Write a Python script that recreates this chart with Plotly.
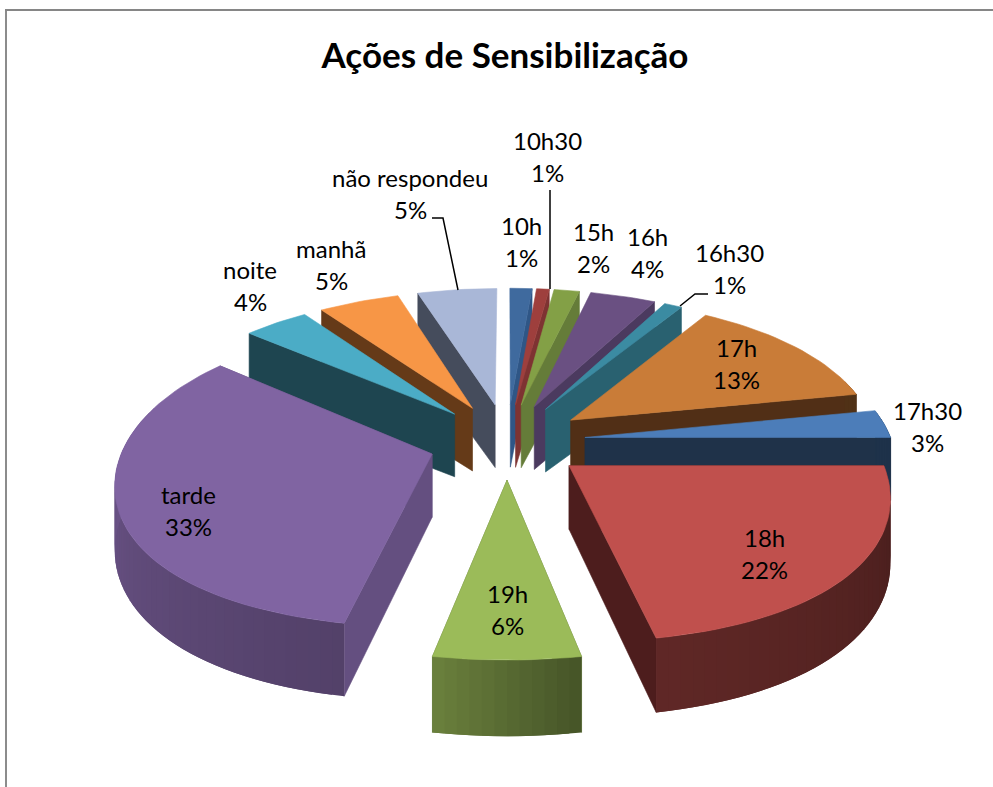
import math
import plotly.graph_objects as go

categories = ["10h", "10h30", "15h", "16h", "16h30", "17h", "17h30", "18h", "19h", "tarde", "noite", "manhã", "não respondeu"]
values = [1.4, 0.8, 1.6, 4.1, 1.1, 13, 3, 22, 6, 33, 4, 5, 5]
top_colors = ["#3f6a9e", "#9e3f3d", "#83a046", "#6a5082", "#3b8ba2", "#c97c38", "#4c7db9", "#c0504d", "#9bbb59", "#8064a2", "#4bacc6", "#f79646", "#a9b7d7"]
face_colors = ["#2f5686", "#7e3332", "#657c39", "#4b3a5f", "#296170", "#512f16", "#1f3249", "#4d1d1d", "#5d7535", "#644f80", "#1e4550", "#653a18", "#454c5c"]
wall_left = [.4, .4, .4, .4, .4, .4, .4, .50, .69, .92, .4, .41, .41]
wall_right = [.4, .4, .4, .4, .4, .4, .4, .37, .45, .65, .4, .41, .41]
label_x = [521, 547, 593, 647, 729, 736, 927, 764, 507, 188, 250, 331, 410]
label_y = [225, 140, 231, 236, 252, 347, 410, 537, 593, 494, 269, 248, 177]
title_text = "Ações de Sensibilização"

CX, CY, R, EXPLODE = 507, 441, 308, 0.256
RY, RY2 = 148, 21
FONT = "Lato"


def scale(v):
    return 0.9963 + 0.151 * v + 0.04014 * v * v + 0.02484 * v ** 3


def project(u, v):
    return CX + R * scale(v) * u, CY + v * (RY + RY2 * v)


def depth(v):
    return 63 + 3 * v + 6 * v * v


def shade(hex_color, f):
    r, g, b = (int(hex_color[i:i + 2], 16) for i in (1, 3, 5))
    return f"rgb({int(r * f)},{int(g * f)},{int(b * f)})"


def poly(pts, color, width=0.6):
    xs = [p[0] for p in pts] + [pts[0][0]]
    ys = [p[1] for p in pts] + [pts[0][1]]
    return go.Scatter(x=xs, y=ys, mode="lines", fill="toself", fillcolor=color,
                      line=dict(color=color, width=width), hoverinfo="skip", showlegend=False)


total = sum(values)
slices = []
cum = 0
for i, val in enumerate(values):
    a0 = 2 * math.pi * cum / total
    a1 = 2 * math.pi * (cum + val) / total
    cum += val
    m = (a0 + a1) / 2
    slices.append((i, a0, a1, m, -math.cos(m)))

fig = go.Figure()
for i, a0, a1, m, _ in sorted(slices, key=lambda s: s[4]):
    ou, ov = EXPLODE * math.sin(m), -EXPLODE * math.cos(m)
    n = max(12, int((a1 - a0) * 30))
    angles = [a0 + (a1 - a0) * j / n for j in range(n + 1)]
    arc = [(ou + math.sin(a), ov - math.cos(a)) for a in angles]
    tip = (ou, ov)

    def lower(p):
        x, y = project(*p)
        return x, y + depth(p[1])

    def upper(p):
        return project(*p)

    start_face = [upper(tip), upper(arc[0]), lower(arc[0]), lower(tip)]
    end_face = [upper(tip), upper(arc[-1]), lower(arc[-1]), lower(tip)]
    # faces turned away from the viewer are left out
    if m < math.pi / 2:
        faces = [end_face]
    elif m > 3 * math.pi / 2:
        faces = [start_face]
    else:
        faces = [start_face, end_face] if math.sin(m) > 0 else [end_face, start_face]
    for f in faces:
        fig.add_trace(poly(f, face_colors[i]))
    for j in range(n):
        if -math.cos((angles[j] + angles[j + 1]) / 2) < -0.3:
            continue
        t = (j + 0.5) / n
        f = wall_right[i] * (1 - t) + wall_left[i] * t
        k = min(j + 2, n)
        seg = [upper(p) for p in arc[j:k + 1]] + [lower(p) for p in reversed(arc[j:k + 1])]
        fig.add_trace(poly(seg, shade(top_colors[i], f), width=0))
    fig.add_trace(poly([upper(tip)] + [upper(p) for p in arc], top_colors[i]))

shapes = [
    dict(type="line", x0=6, y0=10, x1=6, y1=787, line=dict(color="#8c8c8c", width=2)),
    dict(type="line", x0=5, y0=10, x1=993, y1=10, line=dict(color="#868686", width=2)),
    dict(type="path", path="M 550 190 L 550 289", line=dict(color="black", width=1.5)),
    dict(type="path", path="M 432 218 L 443 218 L 458 290", line=dict(color="black", width=1.5)),
    dict(type="path", path="M 708 294 L 695 294 L 680 306", line=dict(color="black", width=1.5)),
]

annotations = []
LINE_GAP = 16
for name, val, x, y in zip(categories, values, label_x, label_y):
    pct = f"{round(100 * val / total)}%"
    annotations.append(dict(x=x, y=y, text=name, xref="x", yref="y", showarrow=False,
                            xanchor="center", yanchor="middle", font=dict(family=FONT, size=24, color="black")))
    annotations.append(dict(x=x, y=y + 2 * LINE_GAP, text=pct, xref="x", yref="y", showarrow=False,
                            xanchor="center", yanchor="middle", font=dict(family=FONT, size=24, color="black")))

fig.update_layout(
    width=993, height=787, autosize=False,
    margin=dict(l=0, r=0, t=0, b=0),
    paper_bgcolor="white", plot_bgcolor="white",
    showlegend=False,
    title=dict(text=f"<b>{title_text}</b>", x=505 / 993, xanchor="center", y=1 - 56 / 787, yanchor="middle",
               font=dict(family=FONT, size=35, color="black")),
    xaxis=dict(range=[0, 993], visible=False, fixedrange=True),
    yaxis=dict(range=[787, 0], visible=False, fixedrange=True),
    shapes=shapes, annotations=annotations,
)
fig.write_html("out.html", config=dict(displayModeBar=False),
               post_script="document.documentElement.style.overflow='hidden';document.body.style.margin='0';")
